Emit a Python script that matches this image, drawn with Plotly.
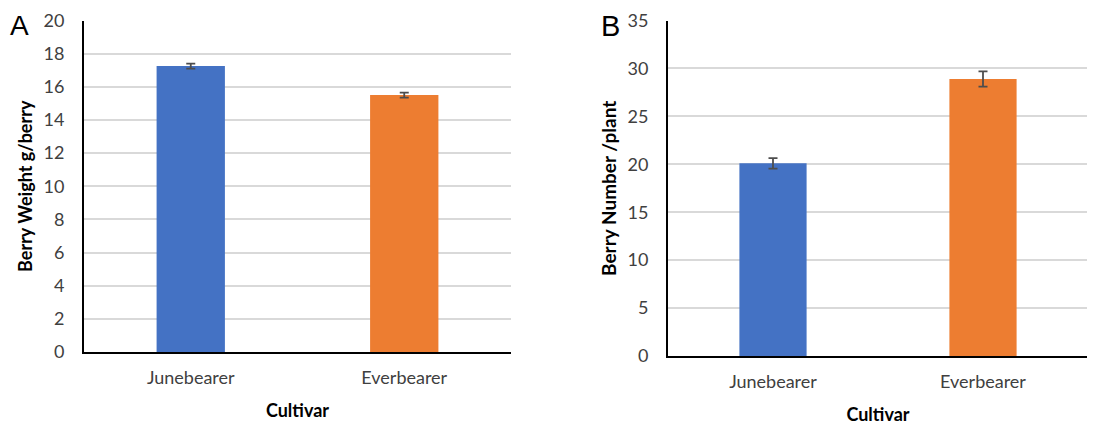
import plotly.graph_objects as go

categories = ["Junebearer", "Everbearer"]
colors = ["#4472C4", "#ED7D31"]
weight = [17.25, 15.5]
weight_err = [0.15, 0.15]
number = [20.1, 28.9]
number_err = [0.55, 0.8]

# page body has an 8px margin; figure sized so it ends at the window edge
W, H = 1087, 417
FONT = "Lato, Open Sans, sans-serif"

fig = go.Figure()
fig.add_trace(go.Bar(x=categories, y=weight, marker=dict(color=colors, line=dict(width=0)),
                     width=0.32, xaxis="x", yaxis="y",
                     error_y=dict(type="data", array=weight_err, color="#4d4d4d", thickness=1.8, width=4.5)))
fig.add_trace(go.Bar(x=categories, y=number, marker=dict(color=colors, line=dict(width=0)),
                     width=0.32, xaxis="x2", yaxis="y2",
                     error_y=dict(type="data", array=number_err, color="#4d4d4d", thickness=1.8, width=4.5)))

def px_x(a, b):
    return [a / W, b / W]

def px_y(top, bot):
    return [1 - bot / H, 1 - top / H]

tickfont = dict(family=FONT, size=18, color="#404040")
titlefont = dict(family=FONT, size=18, color="#000000")
common_x = dict(showline=True, linecolor="black", linewidth=2, showgrid=False, automargin=False,
                tickfont=tickfont, ticks="", ticklabelstandoff=8,
                title=dict(text="<b>Cultivar</b>", font=titlefont, standoff=18))
common_y = dict(showline=True, linecolor="black", linewidth=2, automargin=False,
                showgrid=True, gridcolor="#d9d9d9", gridwidth=1.5, ticklabeloverflow="allow",
                zeroline=False, tickfont=tickfont, ticks="", ticklabelstandoff=14)
fig.update_layout(
    width=W, height=H, margin=dict(l=0, r=0, t=0, b=0, autoexpand=False),
    paper_bgcolor="white", plot_bgcolor="white", showlegend=False,
    xaxis=dict(domain=px_x(76, 503), anchor="y", **common_x),
    xaxis2=dict(domain=px_x(660, 1080), anchor="y2", **common_x),
    yaxis=dict(domain=px_y(12.5, 344), anchor="x", range=[0, 20], dtick=2,
               title=dict(text="<b>Berry Weight g/berry</b>", font=titlefont, standoff=6),
               **common_y),
    yaxis2=dict(domain=px_y(12.5, 348), anchor="x2", range=[0, 35], dtick=5,
                title=dict(text="<b>Berry Number /plant</b>", font=dict(family=FONT, size=19, color="#000000"), standoff=6),
                **common_y),
    annotations=[
        dict(text="A", x=11 / W, y=1, xref="paper", yref="paper", showarrow=False,
             xanchor="center", yanchor="top",
             font=dict(family="Arial", size=28, color="black")),
        dict(text="B", x=602 / W, y=1, xref="paper", yref="paper", showarrow=False,
             xanchor="center", yanchor="top",
             font=dict(family="Arial", size=29, color="black")),
    ],
)

fig.write_html("out.html")
